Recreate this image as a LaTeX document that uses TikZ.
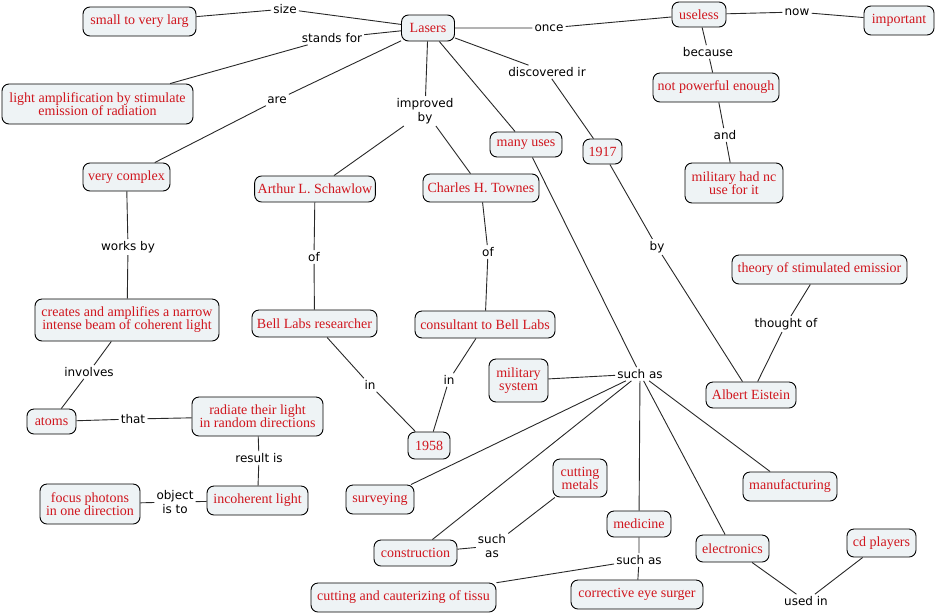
\documentclass[tikz,border=0pt]{standalone}
\usepackage{fontspec}
\setmainfont{Liberation Serif}
\newfontfamily\labelfont{DejaVu Sans}
\definecolor{cfill}{RGB}{238,243,245}
\definecolor{ctext}{RGB}{208,22,30}
\definecolor{cline}{RGB}{40,40,40}
\tikzset{
  concept/.style={draw=black, line width=0.9pt, rounded corners=7pt, fill=cfill,
    text=ctext, align=center, inner sep=3pt,
    font=\fontsize{14}{13}\selectfont},
  lbl/.style={align=center, inner sep=2pt, text=black,
    font=\labelfont\fontsize{12}{14}\selectfont},
  conn/.style={draw=cline, line width=0.9pt}
}
\newcommand{\cnode}[6]{\node[concept, minimum width=#4pt, minimum height=#5pt] (#1) at (#2,#3) {#6};}
\begin{document}
\begin{tikzpicture}[x=1pt, y=-1pt]
\useasboundingbox (0,0) rectangle (936,614);
% concepts
\cnode{lasers}{428}{28}{53}{26}{Lasers}
\cnode{small}{139.5}{21.5}{113}{29}{small to very larg}
\cnode{lightamp}{97.5}{104}{191}{40}{light amplification by stimulate\\emission of radiation}
\cnode{complex}{126.5}{177}{87}{28}{very complex}
\cnode{schawlow}{315}{189}{120}{26}{Arthur L. Schawlow}
\cnode{townes}{481}{188}{116}{28}{Charles H. Townes}
\cnode{manyuses}{526}{144.5}{72}{25}{many uses}
\cnode{yone}{602.5}{151.5}{39}{25}{1917}
\cnode{useless}{699}{14.5}{54}{25}{useless}
\cnode{important}{899}{20.5}{70}{29}{important}
\cnode{notpowerful}{716}{87.5}{126}{29}{not powerful enough}
\cnode{military}{734}{183}{98}{40}{military had nc\\use for it}
\cnode{creates}{127}{320}{184}{42}{creates and amplifies a narrow\\intense beam of coherent light}
\cnode{belllabs}{314.5}{323.5}{125}{27}{Bell Labs researcher}
\cnode{atoms}{51.5}{421.5}{49}{25}{atoms}
\cnode{radiate}{257.5}{416.5}{131}{39}{radiate their light\\in random directions}
\cnode{focus}{90}{504}{100}{40}{focus photons\\in one direction}
\cnode{incoherent}{257.5}{500.5}{101}{29}{incoherent light}
\cnode{ytwo}{429}{445.5}{42}{27}{1958}
\cnode{surveying}{380}{499.5}{68}{29}{surveying}
\cnode{construction}{415.5}{553}{83}{26}{construction}
\cnode{cauter}{403.5}{597.5}{185}{29}{cutting and cauterizing of tissu}
\cnode{consultant}{485}{324.5}{140}{27}{consultant to Bell Labs}
\cnode{milsystem}{518.5}{380.5}{59}{43}{military\\system}
\cnode{theory}{819.5}{269.5}{175}{29}{theory of stimulated emissior}
\cnode{einstein}{751}{395}{90}{26}{Albert Eistein}
\cnode{cutmetals}{580}{478}{54}{38}{cutting\\metals}
\cnode{medicine}{639}{524}{64}{26}{medicine}
\cnode{manufacturing}{790}{486.5}{94}{29}{manufacturing}
\cnode{electronics}{732.5}{548.5}{73}{27}{electronics}
\cnode{cdplayers}{881.5}{543}{69}{28}{cd players}
\cnode{corrective}{637}{594.5}{132}{29}{corrective eye surger}
% linking phrases
\node[lbl] (lsize) at (285,9) {size};
\node[lbl] (lstands) at (332,38) {stands for};
\node[lbl] (lare) at (277,100) {are};
\node[lbl] (limproved) at (425,111) {improved\\by};
\node[lbl] (lonce) at (549,28) {once};
\node[lbl] (ldisc) at (547,72) {discovered ir};
\node[lbl] (lnow) at (797,12) {now};
\node[lbl] (lbecause) at (708,52) {because};
\node[lbl] (land) at (725,135) {and};
\node[lbl] (lworks) at (128,247) {works by};
\node[lbl] (lofone) at (314,257) {of};
\node[lbl] (loftwo) at (488,252) {of};
\node[lbl] (lby) at (657,247) {by};
\node[lbl] (lthought) at (786,324) {thought of};
\node[lbl] (linvolves) at (89,372) {involves};
\node[lbl] (linone) at (370,385) {in};
\node[lbl] (lintwo) at (449,380) {in};
\node[lbl] (lsuchas) at (640,374) {such as};
\node[lbl] (lthat) at (133,419) {that};
\node[lbl] (lresult) at (259,458) {result is};
\node[lbl] (lobject) at (175,502) {object\\is to};
\node[lbl] (lsuchtwo) at (492,546) {such\\as};
\node[lbl] (lsuchthree) at (639,560) {such as};
\node[lbl] (lused) at (806,601) {used in};
% connectors
\draw[conn] (lasers) -- (lsize) -- (small);
\draw[conn] (lasers) -- (lstands) -- (lightamp);
\draw[conn] (lasers) -- (lare) -- (complex);
\draw[conn] (lasers) -- (limproved);
\draw[conn] (limproved) -- (schawlow);
\draw[conn] (limproved) -- (townes);
\draw[conn] (lasers) -- (manyuses) -- (lsuchas);
\draw[conn] (lasers) -- (lonce) -- (useless);
\draw[conn] (lasers) -- (ldisc) -- (yone);
\draw[conn] (useless) -- (lnow) -- (important);
\draw[conn] (useless) -- (lbecause) -- (notpowerful) -- (land) -- (military);
\draw[conn] (yone) -- (lby) -- (einstein);
\draw[conn] (einstein) -- (lthought) -- (theory);
\draw[conn] (complex) -- (lworks) -- (creates) -- (linvolves) -- (atoms) -- (lthat) -- (radiate) -- (lresult) -- (incoherent) -- (lobject) -- (focus);
\draw[conn] (schawlow) -- (lofone) -- (belllabs) -- (linone) -- (ytwo);
\draw[conn] (townes) -- (loftwo) -- (consultant) -- (lintwo) -- (ytwo);
\draw[conn] (lsuchas) -- (milsystem);
\draw[conn] (lsuchas) -- (surveying);
\draw[conn] (lsuchas) -- (construction);
\draw[conn] (lsuchas) -- (medicine);
\draw[conn] (lsuchas) -- (electronics);
\draw[conn] (lsuchas) -- (manufacturing);
\draw[conn] (construction) -- (lsuchtwo) -- (cutmetals);
\draw[conn] (medicine) -- (lsuchthree) -- (corrective);
\draw[conn] (lsuchthree) -- (cauter);
\draw[conn] (electronics) -- (lused) -- (cdplayers);
\end{tikzpicture}
\end{document}
